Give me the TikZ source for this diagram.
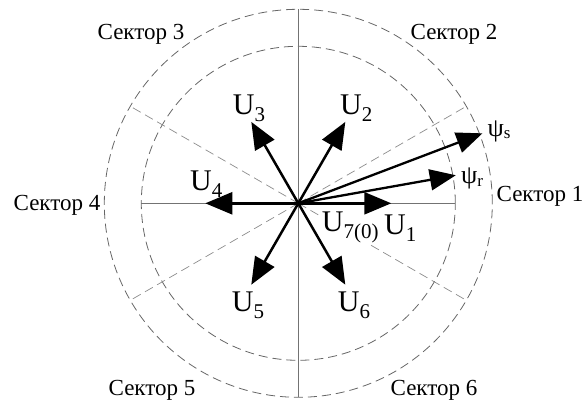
\documentclass[tikz,border=0pt]{standalone}
\usepackage{fontspec}
\setmainfont{Liberation Serif}
\usetikzlibrary{arrows.meta}
\tikzset{
  circ/.style={draw=black!60, line width=0.8pt, dash pattern=on 9pt off 5pt},
  rad/.style={draw=black!45, line width=0.7pt, dash pattern=on 9pt off 5pt},
  axisline/.style={draw=black!55, line width=0.9pt},
  vec/.style={draw=black, line width=2.5pt, -{Triangle[length=27pt,width=22pt]}},
  flux/.style={draw=black, line width=2.3pt, -{Triangle[length=26pt,width=21pt]}},
  sect/.style={font=\fontsize{23}{23}\selectfont, inner sep=0pt, anchor=base},
  ulab/.style={font=\fontsize{30}{30}\selectfont, inner sep=0pt, anchor=base west},
  psilab/.style={font=\fontsize{26}{26}\selectfont, inner sep=0pt, anchor=base west},
}
\newcommand\Usub[1]{U\raisebox{-7pt}{\fontsize{21}{21}\selectfont #1}}
\newcommand\Psisub[1]{ψ\raisebox{-2pt}{\fontsize{17}{17}\selectfont #1}}
\begin{document}
\begin{tikzpicture}[x=1pt,y=1pt]
\useasboundingbox (0,0) rectangle (585,-403);
\begin{scope}[shift={(298.3,-203.3)}]
  \coordinate (O) at (0,0);
  \draw[circ] (O) circle (194);
  \draw[circ] (O) circle (157);
  \coordinate (top) at (90:194);
  \coordinate (bot) at (-90:194);
  \coordinate (lft) at (180:157);
  \coordinate (rgt) at (0:157);
  \draw[axisline] (top) -- (bot);
  \draw[axisline] (lft) -- (rgt);
  \coordinate (r30) at (30:194);
  \coordinate (r150) at (150:194);
  \coordinate (r210) at (210:194);
  \coordinate (r330) at (330:194);
  \draw[rad] (O) -- (r30);
  \draw[rad] (O) -- (r150);
  \draw[rad] (O) -- (r210);
  \draw[rad] (O) -- (r330);
  \coordinate (u1) at (0:93);
  \coordinate (u2) at (60:94);
  \coordinate (u3) at (120:94);
  \coordinate (u4) at (180:93);
  \coordinate (u5) at (240:94);
  \coordinate (u6) at (300:94);
  \coordinate (ps) at (20.8:197);
  \coordinate (pr) at (10.1:160);
\end{scope}
\node[ulab, fill=white, inner sep=1pt] (l7) at (320.7,-231.7) {\Usub{7(0)}};
\draw[vec] (O) -- (u1);
\draw[vec] (O) -- (u2);
\draw[vec] (O) -- (u3);
\draw[vec] (O) -- (u4);
\draw[vec] (O) -- (u5);
\draw[vec] (O) -- (u6);
\draw[flux] (O) -- (ps);
\draw[flux] (O) -- (pr);
\node[ulab] (l1) at (384,-234) {\Usub{1}};
\node[ulab] (l2) at (340,-115) {\Usub{2}};
\node[ulab] (l3) at (232.7,-115) {\Usub{3}};
\node[ulab] (l4) at (190,-190) {\Usub{4}};
\node[ulab] (l5) at (231.7,-311.7) {\Usub{5}};
\node[ulab] (l6) at (337.7,-311.7) {\Usub{6}};
\node[psilab] (lps) at (487.5,-137) {\Psisub{s}};
\node[psilab] (lpr) at (461,-184) {\Psisub{r}};
\node[sect] (s1) at (540,-201.7) {Сектор 1};
\node[sect] (s2) at (454,-40) {Сектор 2};
\node[sect] (s3) at (141,-40) {Сектор 3};
\node[sect] (s4) at (57,-210) {Сектор 4};
\node[sect] (s5) at (152,-395.3) {Сектор 5};
\node[sect] (s6) at (434,-395.3) {Сектор 6};
\end{tikzpicture}
\end{document}
